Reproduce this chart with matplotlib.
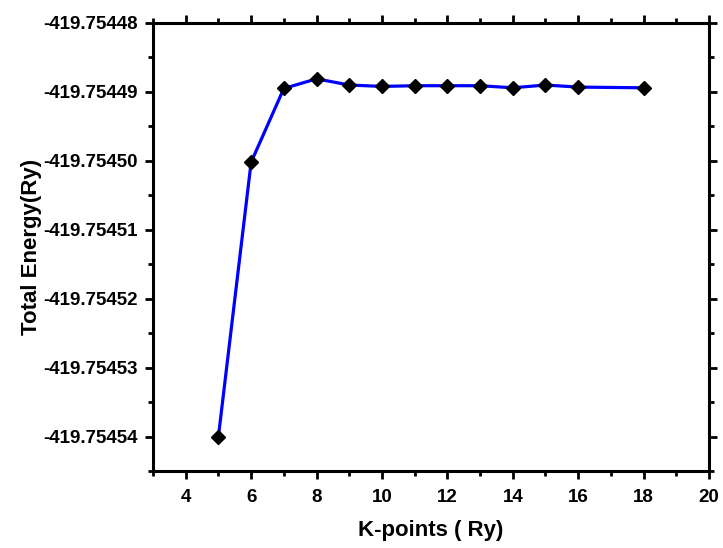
import matplotlib
matplotlib.use("Agg")
import matplotlib.pyplot as plt
from matplotlib.ticker import MultipleLocator, FormatStrFormatter

kpoints = [5, 6, 7, 8, 9, 10, 11, 12, 13, 14, 15, 16, 18]
energy = [-419.7545400, -419.7545002, -419.7544895, -419.7544881, -419.7544890,
          -419.7544892, -419.7544891, -419.7544891, -419.7544891, -419.7544894,
          -419.7544890, -419.7544893, -419.7544894]

plt.rcParams['font.family'] = ['Liberation Sans', 'DejaVu Sans']
plt.rcParams['font.weight'] = 'bold'

fig = plt.figure(figsize=(7.23, 5.48), dpi=100)
ax = fig.add_axes([153/723, 1-471/548, (709-153)/723, (471-23)/548])

ax.plot(kpoints, energy, color='#0000ff', lw=2.3, marker='D', ms=7,
        mfc='black', mec='black', zorder=3)

ax.set_xlim(3, 20)
ax.set_ylim(-419.754545, -419.75448)
ax.xaxis.set_major_locator(MultipleLocator(2))
ax.xaxis.set_minor_locator(MultipleLocator(1))
ax.yaxis.set_major_locator(MultipleLocator(1e-5))
ax.yaxis.set_minor_locator(MultipleLocator(5e-6))
ax.yaxis.set_major_formatter(FormatStrFormatter('%.5f'))

for s in ax.spines.values():
    s.set_linewidth(2.2)

ax.tick_params(which='both', direction='out', width=2, top=True, right=True,
               labeltop=False, labelright=False)
ax.tick_params(which='major', length=6, labelsize=13.5)
ax.tick_params(axis='x', which='major', pad=7)
ax.tick_params(axis='y', which='major', pad=5)
ax.tick_params(which='minor', length=3.5)
for lbl in ax.get_xticklabels() + ax.get_yticklabels():
    lbl.set_fontweight('bold')

ax.set_xlabel('K-points ( Ry)', fontsize=16, fontweight='bold', labelpad=10)
ax.set_ylabel('Total Energy(Ry)', fontsize=16, fontweight='bold', labelpad=1)

fig.savefig('out.png', dpi=100)
